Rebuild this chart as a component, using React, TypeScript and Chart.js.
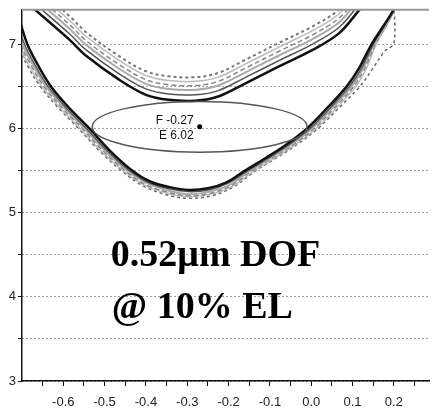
import { useEffect, useRef } from "react";
import { Chart, registerables } from "chart.js";

Chart.register(...registerables);

// Axis ranges: focus (µm) horizontally, exposure vertically
const FOCUS_MIN = -0.7;
const FOCUS_MAX = 0.285;
const EXPOSURE_MIN = 3;
const EXPOSURE_MAX = 7.41;

const FOCUS_TICKS = [-0.65, -0.6, -0.55, -0.5, -0.45, -0.4, -0.35, -0.3, -0.25, -0.2, -0.15, -0.1, -0.05, 0, 0.05, 0.1, 0.15, 0.2, 0.25];
const FOCUS_LABELS = [-0.6, -0.5, -0.4, -0.3, -0.2, -0.1, 0, 0.1, 0.2];
const EXPOSURE_TICKS = [3, 3.5, 4, 4.5, 5, 5.5, 6, 6.5, 7];
const EXPOSURE_LABELS = [3, 4, 5, 6, 7];

// Process window centre and size
const BEST_FOCUS = -0.27;
const BEST_EXPOSURE = 6.02;
const DOF = 0.52;
const EL_PERCENT = 10;

// Upper CD-limit contours, sampled on a shared focus grid
const UPPER_FOCUS = [-0.7, -0.668, -0.584, -0.544, -0.465, -0.4, -0.345, -0.28, -0.225, -0.158, -0.077, 0.002, 0.067, 0.115, 0.14];
const UPPER_0 = [7.55, 7.41, 7.05, 6.86, 6.58, 6.4, 6.34, 6.33, 6.38, 6.54, 6.74, 6.93, 7.13, 7.4, 7.55];
const UPPER_1 = [7.62, 7.48, 7.12, 6.93, 6.65, 6.47, 6.41, 6.4, 6.45, 6.61, 6.81, 7.0, 7.2, 7.47, 7.62];
const UPPER_2 = [7.68, 7.54, 7.18, 6.99, 6.71, 6.53, 6.47, 6.46, 6.51, 6.67, 6.87, 7.06, 7.26, 7.53, 7.68];
const UPPER_3 = [7.73, 7.59, 7.23, 7.04, 6.76, 6.58, 6.52, 6.51, 6.56, 6.72, 6.92, 7.11, 7.31, 7.58, 7.73];
const UPPER_4 = [7.78, 7.64, 7.28, 7.09, 6.81, 6.63, 6.57, 6.56, 6.61, 6.77, 6.97, 7.16, 7.36, 7.63, 7.78];
const UPPER_5 = [7.83, 7.69, 7.33, 7.14, 6.86, 6.68, 6.62, 6.61, 6.66, 6.82, 7.02, 7.21, 7.41, 7.68, 7.83];

// Lower CD-limit contours as [focus, exposure] pairs
const LOWER_0: [number, number][] = [[-0.712, 7.39], [-0.687, 7.0], [-0.66, 6.74], [-0.63, 6.5], [-0.585, 6.24], [-0.537, 6.0], [-0.49, 5.75], [-0.436, 5.51], [-0.39, 5.37], [-0.34, 5.3], [-0.297, 5.27], [-0.25, 5.29], [-0.205, 5.36], [-0.16, 5.5], [-0.11, 5.65], [-0.06, 5.81], [-0.01, 6.0], [0.04, 6.25], [0.086, 6.5], [0.115, 6.71], [0.146, 7.0], [0.175, 7.22], [0.199, 7.41], [0.215, 7.6]];
const LOWER_1: [number, number][] = [[-0.719, 7.39], [-0.694, 7.0], [-0.667, 6.74], [-0.637, 6.5], [-0.592, 6.24], [-0.544, 6.0], [-0.497, 5.75], [-0.443, 5.51], [-0.395, 5.36], [-0.342, 5.28], [-0.297, 5.25], [-0.248, 5.27], [-0.201, 5.35], [-0.153, 5.5], [-0.103, 5.65], [-0.053, 5.81], [-0.003, 6.0], [0.047, 6.25], [0.093, 6.5], [0.121, 6.71], [0.15, 7.0], [0.177, 7.22], [0.2, 7.41], [0.216, 7.6]];
const LOWER_2: [number, number][] = [[-0.724, 7.39], [-0.699, 7.0], [-0.672, 6.74], [-0.642, 6.5], [-0.597, 6.24], [-0.549, 6.0], [-0.502, 5.75], [-0.448, 5.51], [-0.398, 5.35], [-0.344, 5.26], [-0.297, 5.22], [-0.246, 5.25], [-0.198, 5.33], [-0.148, 5.5], [-0.098, 5.65], [-0.048, 5.81], [0.002, 6.0], [0.052, 6.25], [0.098, 6.5], [0.125, 6.71], [0.152, 7.0], [0.179, 7.22], [0.201, 7.41], [0.217, 7.6]];
const LOWER_3: [number, number][] = [[-0.729, 7.39], [-0.704, 7.0], [-0.677, 6.74], [-0.647, 6.5], [-0.602, 6.24], [-0.554, 6.0], [-0.507, 5.75], [-0.453, 5.51], [-0.402, 5.335], [-0.345, 5.24], [-0.297, 5.2], [-0.245, 5.23], [-0.195, 5.32], [-0.143, 5.5], [-0.093, 5.65], [-0.043, 5.81], [0.007, 6.0], [0.057, 6.25], [0.103, 6.5], [0.129, 6.71], [0.155, 7.0], [0.181, 7.22], [0.202, 7.41], [0.218, 7.6]];
const LOWER_4: [number, number][] = [[-0.734, 7.39], [-0.709, 7.0], [-0.682, 6.74], [-0.652, 6.5], [-0.607, 6.24], [-0.559, 6.0], [-0.512, 5.75], [-0.458, 5.51], [-0.405, 5.33], [-0.347, 5.23], [-0.297, 5.19], [-0.243, 5.22], [-0.192, 5.31], [-0.138, 5.5], [-0.088, 5.65], [-0.038, 5.81], [0.012, 6.0], [0.062, 6.25], [0.108, 6.5], [0.133, 6.71], [0.157, 7.0], [0.182, 7.22], [0.202, 7.41], [0.218, 7.6]];
const LOWER_5: [number, number][] = [[-0.738, 7.39], [-0.713, 7.0], [-0.686, 6.74], [-0.656, 6.5], [-0.611, 6.24], [-0.563, 6.0], [-0.516, 5.75], [-0.462, 5.51], [-0.408, 5.32], [-0.348, 5.21], [-0.297, 5.17], [-0.242, 5.2], [-0.19, 5.3], [-0.134, 5.5], [-0.084, 5.65], [-0.034, 5.81], [0.016, 6.0], [0.068, 6.25], [0.118, 6.5], [0.15, 6.72], [0.178, 6.92], [0.2, 7.01], [0.2, 7.5]];

const SANS = "'Liberation Sans', Arial, sans-serif";
const SERIF = "'Liberation Serif', 'Times New Roman', serif";

type Pt = { x: number; y: number };

function contour(points: Pt[], color: string, width: number, dash: number[] = []) {
  return {
    data: points,
    showLine: true,
    pointRadius: 0,
    borderColor: color,
    borderWidth: width,
    borderDash: dash,
    tension: 0.35,
    fill: false,
  };
}

const fromGrid = (values: number[]): Pt[] => UPPER_FOCUS.map((f, i) => ({ x: f, y: values[i] }));
const fromPairs = (pairs: [number, number][]): Pt[] => pairs.map(([x, y]) => ({ x, y }));

// Ellipse of the process window, its centre label, frame top and summary text
const windowPlugin = {
  id: "processWindow",
  afterDatasetsDraw(chart: any) {
    const { ctx } = chart;
    const xs = chart.scales.x;
    const ys = chart.scales.y;
    const cx = xs.getPixelForValue(BEST_FOCUS);
    const cy = ys.getPixelForValue(BEST_EXPOSURE);
    const rx = xs.getPixelForValue(BEST_FOCUS + DOF / 2) - cx;
    const ry = cy - ys.getPixelForValue(BEST_EXPOSURE * (1 + EL_PERCENT / 200));
    ctx.save();
    ctx.beginPath();
    ctx.ellipse(cx, cy, rx, ry, 0, 0, Math.PI * 2);
    ctx.strokeStyle = "#555";
    ctx.lineWidth = 1.5;
    ctx.stroke();
    ctx.fillStyle = "#111";
    ctx.font = `12px ${SANS}`;
    ctx.textAlign = "right";
    ctx.textBaseline = "alphabetic";
    ctx.fillText(`F ${BEST_FOCUS.toFixed(2)}`, cx - 6, cy - 3);
    ctx.fillText(`E ${BEST_EXPOSURE.toFixed(2)}`, cx - 6, cy + 12);
    ctx.restore();
  },
  afterDraw(chart: any) {
    const { ctx, chartArea } = chart;
    const xs = chart.scales.x;
    const ys = chart.scales.y;
    ctx.save();
    ctx.strokeStyle = "#999";
    ctx.lineWidth = 2;
    ctx.beginPath();
    ctx.moveTo(chartArea.left, chartArea.top);
    ctx.lineTo(chartArea.right, chartArea.top);
    ctx.stroke();

    ctx.fillStyle = "#000";
    ctx.font = `bold 38px ${SERIF}`;
    ctx.textAlign = "left";
    ctx.textBaseline = "alphabetic";
    const left = xs.getPixelForValue(-0.485);
    ctx.fillText(`${DOF.toFixed(2)}\u03BCm DOF`, left, ys.getPixelForValue(4.37));
    ctx.fillText(`@ ${EL_PERCENT}% EL`, left + 1, ys.getPixelForValue(3.745));
    ctx.restore();
  },
};

export default function App() {
  const canvasRef = useRef<HTMLCanvasElement | null>(null);

  useEffect(() => {
    const canvas = canvasRef.current;
    if (!canvas) return;

    const datasets: any[] = [
      contour(fromGrid(UPPER_0), "#111", 2.5),
      contour(fromPairs(LOWER_0), "#111", 2.5),
      contour(fromGrid(UPPER_1), "#555", 1.5),
      contour(fromPairs(LOWER_1), "#555", 1.5),
      contour(fromGrid(UPPER_2), "#aaa", 2),
      contour(fromPairs(LOWER_2), "#aaa", 2),
      contour(fromGrid(UPPER_3), "#888", 1.5, [5, 3]),
      contour(fromPairs(LOWER_3), "#888", 1.5, [5, 3]),
      contour(fromGrid(UPPER_4), "#bbb", 1.5),
      contour(fromPairs(LOWER_4), "#bbb", 1.5),
      contour(fromGrid(UPPER_5), "#777", 2, [3, 3]),
      contour(fromPairs(LOWER_5), "#666", 1.5, [3, 3]),
      {
        data: [{ x: BEST_FOCUS, y: BEST_EXPOSURE }],
        showLine: false,
        pointRadius: 2.5,
        pointBackgroundColor: "#000",
        pointBorderWidth: 0,
      },
    ];

    const chart = new Chart(canvas, {
      type: "scatter",
      data: { datasets },
      options: {
        animation: false,
        responsive: false,
        devicePixelRatio: 1,
        events: [],
        layout: { padding: { top: 6, left: 0, right: 0, bottom: 0 } },
        plugins: { legend: { display: false }, tooltip: { enabled: false } },
        scales: {
          x: {
            type: "linear",
            min: FOCUS_MIN,
            max: FOCUS_MAX,
            afterBuildTicks: (s: any) => {
              s.ticks = FOCUS_TICKS.map((value) => ({ value }));
            },
            afterFit: (s: any) => {
              s.height = 30;
            },
            grid: { drawOnChartArea: false, drawTicks: true, tickLength: 5, tickColor: "#111", tickWidth: 1 },
            border: { display: true, color: "#111", width: 1.5 },
            ticks: {
              autoSkip: false,
              maxRotation: 0,
              padding: 9,
              color: "#222",
              font: { size: 13, family: SANS },
              callback: (v: any) =>
                FOCUS_LABELS.some((l) => Math.abs(l - Number(v)) < 1e-6) ? Number(v).toFixed(1) : "",
            },
          },
          y: {
            type: "linear",
            min: EXPOSURE_MIN,
            max: EXPOSURE_MAX,
            afterBuildTicks: (s: any) => {
              s.ticks = EXPOSURE_TICKS.map((value) => ({ value }));
            },
            afterFit: (s: any) => {
              s.width = 22;
            },
            grid: { color: "#444", lineWidth: 1, drawTicks: true, tickLength: 4, tickColor: "#111", tickWidth: 1 },
            border: { display: true, color: "#111", width: 1.5, dash: [1, 3] },
            ticks: {
              autoSkip: false,
              padding: 2,
              color: "#222",
              font: { size: 13, family: SANS },
              callback: (v: any) =>
                EXPOSURE_LABELS.some((l) => Math.abs(l - Number(v)) < 1e-6) ? String(Number(v)) : "",
            },
          },
        },
      },
      plugins: [windowPlugin],
    } as any);

    return () => chart.destroy();
  }, []);

  return (
    <div style={{ position: "absolute", left: 0, top: 0, width: 433, height: 411, background: "#fff" }}>
      <canvas ref={canvasRef} width={433} height={411} style={{ display: "block" }} />
    </div>
  );
}
